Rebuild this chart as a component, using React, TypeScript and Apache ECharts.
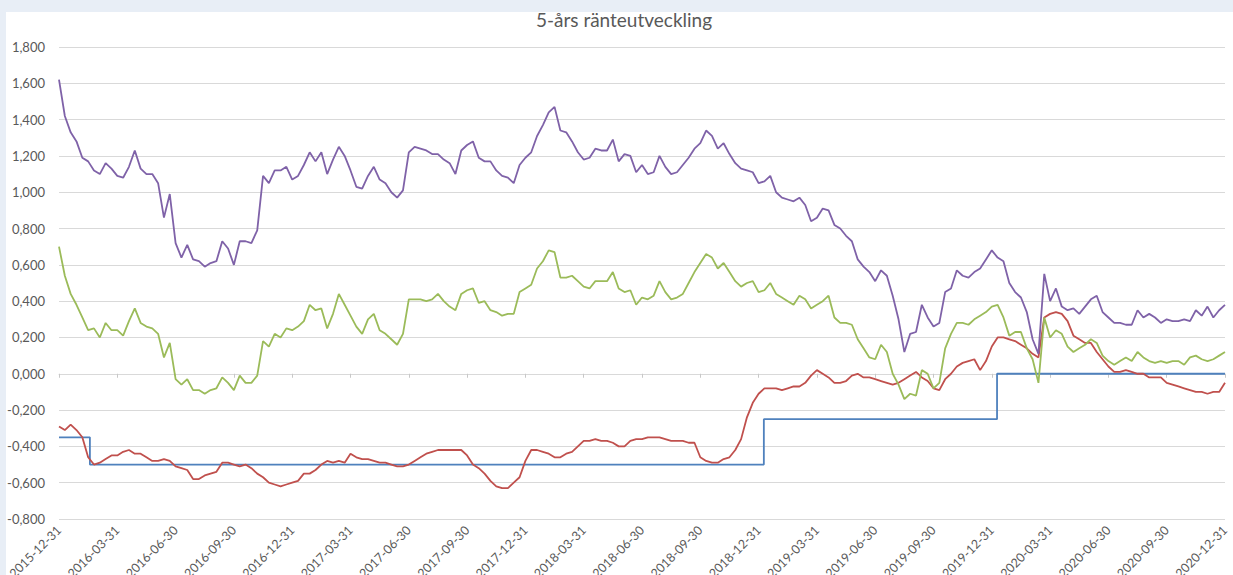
import React, { useEffect, useRef } from "react";
import * as echarts from "echarts";

const chartTitle = "5-års ränteutveckling";

const quarterLabels = [
  "2015-12-31", "2016-03-31", "2016-06-30", "2016-09-30", "2016-12-31",
  "2017-03-31", "2017-06-30", "2017-09-30", "2017-12-31", "2018-03-31",
  "2018-06-30", "2018-09-30", "2018-12-31", "2019-03-31", "2019-06-30",
  "2019-09-30", "2019-12-31", "2020-03-31", "2020-06-30", "2020-09-30",
  "2020-12-31",
];

// samples per quarter for the daily-ish series below
const SAMPLES_PER_QUARTER = 10;

const purpleSeries = [
  1.62, 1.42, 1.33, 1.28, 1.19, 1.17, 1.12, 1.10, 1.16, 1.13,
  1.09, 1.08, 1.14, 1.23, 1.13, 1.10, 1.10, 1.05, 0.86, 0.99,
  0.72, 0.64, 0.71, 0.63, 0.62, 0.59, 0.61, 0.62, 0.73, 0.69,
  0.60, 0.73, 0.73, 0.72, 0.79, 1.09, 1.05, 1.12, 1.12, 1.14,
  1.07, 1.09, 1.15, 1.22, 1.17, 1.22, 1.10, 1.18, 1.25, 1.20,
  1.12, 1.03, 1.02, 1.09, 1.14, 1.07, 1.05, 1.00, 0.97, 1.01,
  1.22, 1.25, 1.24, 1.23, 1.21, 1.21, 1.18, 1.16, 1.10, 1.23,
  1.26, 1.28, 1.19, 1.17, 1.17, 1.12, 1.09, 1.08, 1.05, 1.15,
  1.19, 1.22, 1.31, 1.37, 1.44, 1.47, 1.34, 1.33, 1.28, 1.22,
  1.18, 1.19, 1.24, 1.23, 1.23, 1.29, 1.17, 1.21, 1.20, 1.11,
  1.15, 1.10, 1.11, 1.20, 1.14, 1.10, 1.11, 1.15, 1.19, 1.24,
  1.27, 1.34, 1.31, 1.24, 1.27, 1.21, 1.16, 1.13, 1.12, 1.11,
  1.05, 1.06, 1.09, 1.00, 0.97, 0.96, 0.95, 0.97, 0.93, 0.84,
  0.86, 0.91, 0.90, 0.82, 0.80, 0.76, 0.73, 0.63, 0.59, 0.56,
  0.51, 0.57, 0.54, 0.43, 0.30, 0.12, 0.22, 0.23, 0.38, 0.31,
  0.26, 0.28, 0.45, 0.47, 0.57, 0.54, 0.53, 0.56, 0.58, 0.63,
  0.68, 0.64, 0.62, 0.50, 0.45, 0.42, 0.34, 0.19, 0.11, 0.55,
  0.40, 0.47, 0.37, 0.35, 0.36, 0.33, 0.37, 0.41, 0.43, 0.34,
  0.31, 0.28, 0.28, 0.27, 0.27, 0.35, 0.31, 0.33, 0.31, 0.28,
  0.30, 0.29, 0.29, 0.30, 0.29, 0.35, 0.32, 0.37, 0.31, 0.35,
  0.38,
];

const greenSeries = [
  0.70, 0.54, 0.44, 0.38, 0.31, 0.24, 0.25, 0.20, 0.28, 0.24,
  0.24, 0.21, 0.29, 0.36, 0.28, 0.26, 0.25, 0.22, 0.09, 0.17,
  -0.03, -0.06, -0.03, -0.09, -0.09, -0.11, -0.09, -0.08, -0.02, -0.05,
  -0.09, -0.01, -0.05, -0.05, -0.01, 0.18, 0.15, 0.22, 0.20, 0.25,
  0.24, 0.26, 0.29, 0.38, 0.35, 0.36, 0.25, 0.33, 0.44, 0.38,
  0.32, 0.26, 0.22, 0.30, 0.33, 0.24, 0.22, 0.19, 0.16, 0.22,
  0.41, 0.41, 0.41, 0.40, 0.41, 0.44, 0.40, 0.37, 0.35, 0.44,
  0.46, 0.47, 0.39, 0.40, 0.35, 0.34, 0.32, 0.33, 0.33, 0.45,
  0.47, 0.49, 0.58, 0.62, 0.68, 0.67, 0.53, 0.53, 0.54, 0.51,
  0.48, 0.47, 0.51, 0.51, 0.51, 0.56, 0.47, 0.45, 0.46, 0.38,
  0.42, 0.41, 0.43, 0.51, 0.45, 0.41, 0.42, 0.44, 0.50, 0.56,
  0.61, 0.66, 0.64, 0.58, 0.61, 0.56, 0.51, 0.48, 0.50, 0.51,
  0.45, 0.46, 0.50, 0.44, 0.42, 0.40, 0.38, 0.43, 0.41, 0.36,
  0.38, 0.40, 0.43, 0.31, 0.28, 0.28, 0.27, 0.19, 0.14, 0.09,
  0.08, 0.16, 0.12, 0.00, -0.06, -0.14, -0.11, -0.12, 0.02, 0.00,
  -0.08, -0.05, 0.14, 0.22, 0.28, 0.28, 0.27, 0.30, 0.32, 0.34,
  0.37, 0.38, 0.31, 0.21, 0.23, 0.23, 0.14, 0.08, -0.05, 0.31,
  0.20, 0.24, 0.22, 0.15, 0.12, 0.14, 0.16, 0.19, 0.17, 0.10,
  0.07, 0.05, 0.07, 0.09, 0.07, 0.12, 0.09, 0.07, 0.06, 0.07,
  0.06, 0.07, 0.07, 0.05, 0.09, 0.10, 0.08, 0.07, 0.08, 0.10,
  0.12,
];

const redSeries = [
  -0.29, -0.31, -0.28, -0.31, -0.35, -0.46, -0.50, -0.49, -0.47, -0.45,
  -0.45, -0.43, -0.42, -0.44, -0.44, -0.46, -0.48, -0.48, -0.47, -0.48,
  -0.51, -0.52, -0.53, -0.58, -0.58, -0.56, -0.55, -0.54, -0.49, -0.49,
  -0.50, -0.51, -0.50, -0.52, -0.55, -0.57, -0.60, -0.61, -0.62, -0.61,
  -0.60, -0.59, -0.55, -0.55, -0.53, -0.50, -0.48, -0.49, -0.48, -0.49,
  -0.44, -0.46, -0.47, -0.47, -0.48, -0.49, -0.49, -0.50, -0.51, -0.51,
  -0.50, -0.48, -0.46, -0.44, -0.43, -0.42, -0.42, -0.42, -0.42, -0.42,
  -0.45, -0.50, -0.52, -0.55, -0.59, -0.62, -0.63, -0.63, -0.60, -0.57,
  -0.48, -0.42, -0.42, -0.43, -0.44, -0.46, -0.46, -0.44, -0.43, -0.40,
  -0.37, -0.37, -0.36, -0.37, -0.37, -0.38, -0.40, -0.40, -0.37, -0.36,
  -0.36, -0.35, -0.35, -0.35, -0.36, -0.37, -0.37, -0.37, -0.38, -0.38,
  -0.46, -0.48, -0.49, -0.49, -0.47, -0.46, -0.42, -0.36, -0.24, -0.16,
  -0.11, -0.08, -0.08, -0.08, -0.09, -0.08, -0.07, -0.07, -0.05, -0.01,
  0.02, 0.00, -0.02, -0.05, -0.05, -0.04, -0.01, 0.00, -0.02, -0.02,
  -0.03, -0.04, -0.05, -0.06, -0.05, -0.03, -0.01, 0.01, -0.02, -0.04,
  -0.08, -0.09, -0.03, 0.00, 0.04, 0.06, 0.07, 0.08, 0.02, 0.07,
  0.15, 0.20, 0.20, 0.19, 0.18, 0.16, 0.14, 0.11, 0.09, 0.31,
  0.33, 0.34, 0.33, 0.29, 0.21, 0.19, 0.17, 0.17, 0.12, 0.08,
  0.04, 0.01, 0.01, 0.02, 0.01, 0.00, 0.00, -0.02, -0.02, -0.02,
  -0.05, -0.06, -0.07, -0.08, -0.09, -0.10, -0.10, -0.11, -0.10, -0.10,
  -0.05,
];

// policy-rate style step series: change points (in quarters from start) and levels
const repoChangeQuarters = [0, 0.53, 12.09, 16.09, 20];
const repoRates = [-0.35, -0.5, -0.25, 0, 0];

const Y_MIN = -0.8;
const Y_MAX = 1.8;
const Y_STEP = 0.2;

const COLORS = {
  purple: "#7F62A8",
  green: "#9BBB59",
  red: "#C0504D",
  blue: "#4F81BD",
};

export default function App() {
  const ref = useRef<HTMLDivElement>(null);

  useEffect(() => {
    const chart = echarts.init(ref.current!, null, { renderer: "svg" });
    const toPts = (arr: number[]) =>
      arr.map((v, i) => [i / SAMPLES_PER_QUARTER, v]);
    const repoPts = repoChangeQuarters.map((q, i) => [q, repoRates[i]]);
    const font = "Lato, 'Open Sans', sans-serif";
    const lastQ = quarterLabels.length - 1;

    chart.setOption({
      animation: false,
      backgroundColor: "#ffffff",
      textStyle: { fontFamily: font },
      graphic: [
        { type: "rect", shape: { x: 0, y: 0, width: 1233, height: 12 }, style: { fill: "#E8EEF6" }, silent: true },
        { type: "rect", shape: { x: 0, y: 0, width: 6, height: 575 }, style: { fill: "#E8EEF6" }, silent: true },
        {
          type: "text",
          x: 624,
          y: 19,
          style: {
            text: chartTitle,
            fill: "#595959",
            font: `19px ${font}`,
            textAlign: "center",
            textVerticalAlign: "middle",
          },
        },
      ],
      grid: {
        left: 59,
        right: 8,
        top: 47,
        bottom: 56,
        containLabel: false,
        outerBoundsMode: "none",
      },
      xAxis: [
        {
          type: "value",
          min: 0,
          max: lastQ,
          interval: 1,
          position: "bottom",
          axisLine: { show: false, onZero: false },
          axisTick: { show: false },
          splitLine: { show: false },
          axisLabel: {
            rotate: 45,
            margin: 9,
            fontSize: 12.5,
            color: "#595959",
            fontFamily: font,
            formatter: (v: number) => quarterLabels[Math.round(v)] ?? "",
          },
        },
        {
          type: "value",
          min: 0,
          max: lastQ,
          interval: 1,
          position: "bottom",
          axisLine: { show: true, onZero: true, lineStyle: { color: "#D9D9D9", width: 1 } },
          axisTick: { show: true, length: 4, lineStyle: { color: "#C8C8C8" } },
          axisLabel: { show: false },
          splitLine: { show: false },
        },
      ],
      yAxis: {
        type: "value",
        min: Y_MIN,
        max: Y_MAX,
        interval: Y_STEP,
        axisLine: { show: false },
        axisTick: { show: false },
        splitLine: { lineStyle: { color: "#D9D9D9", width: 1 } },
        axisLabel: {
          margin: 14,
          fontSize: 13,
          color: "#595959",
          fontFamily: font,
          formatter: (v: number) => v.toFixed(3).replace(".", ","),
        },
      },
      series: [
        {
          name: "Reporänta",
          type: "line",
          step: "end",
          data: repoPts,
          showSymbol: false,
          lineStyle: { color: COLORS.blue, width: 1.8 },
          z: 2,
        },
        {
          name: "Röd",
          type: "line",
          data: toPts(redSeries),
          showSymbol: false,
          lineStyle: { color: COLORS.red, width: 1.8 },
          z: 3,
        },
        {
          name: "Grön",
          type: "line",
          data: toPts(greenSeries),
          showSymbol: false,
          lineStyle: { color: COLORS.green, width: 1.8 },
          z: 4,
        },
        {
          name: "Lila",
          type: "line",
          data: toPts(purpleSeries),
          showSymbol: false,
          lineStyle: { color: COLORS.purple, width: 1.8 },
          z: 5,
        },
      ],
    });
    return () => chart.dispose();
  }, []);

  return (
    <div
      ref={ref}
      style={{ position: "absolute", left: 0, top: 0, width: 1233, height: 575 }}
    />
  );
}
